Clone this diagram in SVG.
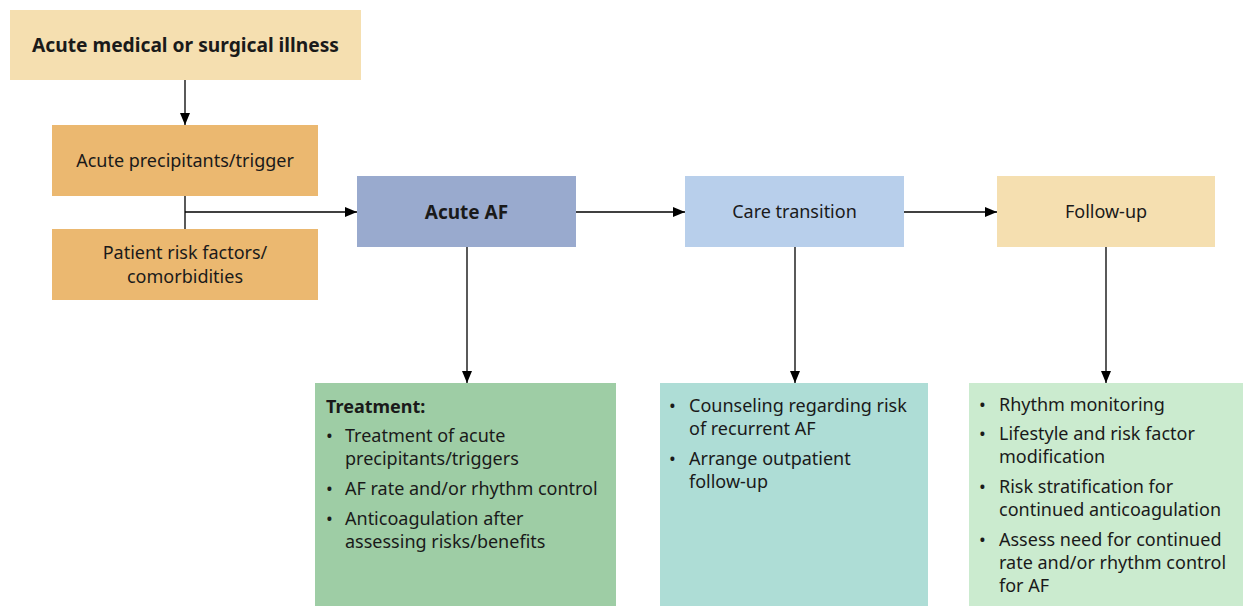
<svg xmlns="http://www.w3.org/2000/svg" width="1243" height="606" viewBox="0 0 1243 606">
<defs>
<marker id="ah" viewBox="0 0 12 10" refX="12" refY="5" markerWidth="12" markerHeight="10" markerUnits="userSpaceOnUse" orient="auto">
<path d="M0,0 L12,5 L0,10 z" fill="#000"/>
</marker>
<style>
text{font-family:"Noto Sans","Liberation Sans",sans-serif;fill:#1a1a1a;font-size:18px}
.c{text-anchor:middle}
.b{font-weight:bold}
.ln{stroke:#000;stroke-width:1.3;fill:none}
</style>
</defs>
<rect width="1243" height="606" fill="#fff"/>
<g id="n-illness"><rect x="10" y="10" width="351" height="70" fill="#F5DFB0"/><text x="185.5" y="52" class="c b" style="font-size:19.2px">Acute medical or surgical illness</text></g>
<g id="n-precip"><rect x="52" y="125" width="266" height="71" fill="#EBB870"/><text x="185" y="167" class="c">Acute precipitants/trigger</text></g>
<g id="n-risk"><rect x="52" y="229" width="266" height="71" fill="#EBB870"/><text x="185" y="259" class="c">Patient risk factors/</text><text x="185" y="283" class="c">comorbidities</text></g>
<g id="n-af"><rect x="357" y="176" width="219" height="71" fill="#99AACE"/><text x="466.5" y="219" class="c b" style="font-size:19px">Acute AF</text></g>
<g id="n-care"><rect x="685" y="176" width="219" height="71" fill="#B8CFEB"/><text x="794.5" y="218" class="c">Care transition</text></g>
<g id="n-follow"><rect x="997" y="176" width="218" height="71" fill="#F5DFB0"/><text x="1106" y="218" class="c">Follow-up</text></g>
<g id="n-treat"><rect x="315" y="383" width="301" height="223" fill="#9ECDA5"/>
<text x="326" y="413" class="b">Treatment:</text>
<text x="326" y="442">•</text><text x="345" y="442">Treatment of acute</text><text x="345" y="465">precipitants/triggers</text>
<text x="326" y="495">•</text><text x="345" y="495">AF rate and/or rhythm control</text>
<text x="326" y="525">•</text><text x="345" y="525">Anticoagulation after</text><text x="345" y="548">assessing risks/benefits</text>
</g>
<g id="n-counsel"><rect x="660" y="383" width="268" height="223" fill="#AEDDD6"/>
<text x="669" y="412">•</text><text x="689" y="412">Counseling regarding risk</text><text x="689" y="435">of recurrent AF</text>
<text x="669" y="465">•</text><text x="689" y="465">Arrange outpatient</text><text x="689" y="488">follow-up</text>
</g>
<g id="n-monitor"><rect x="969" y="383" width="274" height="223" fill="#CBEBCF"/>
<text x="979" y="411">•</text><text x="999" y="411">Rhythm monitoring</text>
<text x="979" y="440">•</text><text x="999" y="440">Lifestyle and risk factor</text><text x="999" y="463">modification</text>
<text x="979" y="493">•</text><text x="999" y="493">Risk stratification for</text><text x="999" y="516">continued anticoagulation</text>
<text x="979" y="546">•</text><text x="999" y="546">Assess need for continued</text><text x="999" y="569">rate and/or rhythm control</text><text x="999" y="592">for AF</text>
</g>
<g id="connectors">
<line class="ln" x1="185" y1="80" x2="185" y2="125" marker-end="url(#ah)"/>
<line class="ln" x1="185" y1="196" x2="185" y2="229"/>
<line class="ln" x1="185" y1="212" x2="357" y2="212" marker-end="url(#ah)"/>
<line class="ln" x1="576" y1="212" x2="685" y2="212" marker-end="url(#ah)"/>
<line class="ln" x1="904" y1="212" x2="997" y2="212" marker-end="url(#ah)"/>
<line class="ln" x1="467" y1="247" x2="467" y2="383" marker-end="url(#ah)"/>
<line class="ln" x1="795" y1="247" x2="795" y2="383" marker-end="url(#ah)"/>
<line class="ln" x1="1106" y1="247" x2="1106" y2="383" marker-end="url(#ah)"/>
</g>
</svg>
